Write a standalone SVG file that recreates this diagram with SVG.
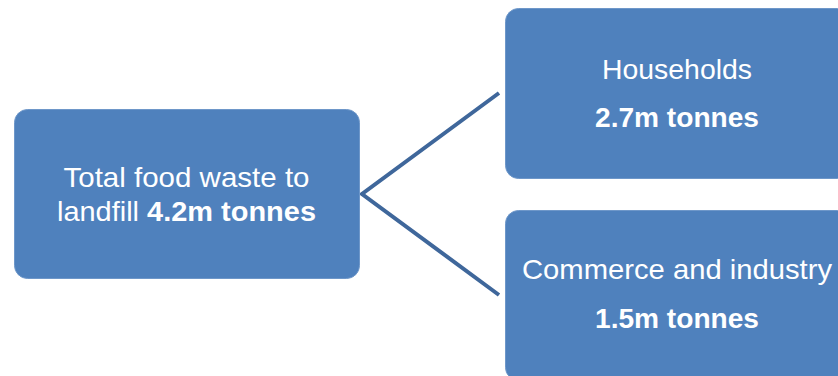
<svg xmlns="http://www.w3.org/2000/svg" width="838" height="376" viewBox="0 0 838 376">
<style>
.box{fill:#4F81BD;stroke:#6E97C9;stroke-width:1}
.t{font-family:"Liberation Sans",Arial,sans-serif;font-size:28px;fill:#FFFFFF;text-anchor:middle}
.b{font-weight:bold}
.conn{stroke:#3F679B;stroke-width:4;fill:none;stroke-linejoin:miter}
</style>
<rect width="838" height="376" fill="#FFFFFF"/>
<g id="connectors">
<path class="conn" d="M499,93 L362,194 L499,295"/>
</g>
<g id="node-total">
<rect class="box" x="14.5" y="109.5" width="345" height="169" rx="13"/>
<text class="t" x="186.5" y="187" textLength="246" lengthAdjust="spacingAndGlyphs">Total food waste to</text>
<text class="t" x="186.5" y="221" textLength="259" lengthAdjust="spacingAndGlyphs">landfill <tspan class="b">4.2m tonnes</tspan></text>
</g>
<g id="node-households">
<rect class="box" x="505.5" y="8.5" width="345" height="170" rx="13"/>
<text class="t" x="677" y="79" textLength="150" lengthAdjust="spacingAndGlyphs">Households</text>
<text class="t b" x="677" y="127" textLength="164" lengthAdjust="spacingAndGlyphs">2.7m tonnes</text>
</g>
<g id="node-commerce">
<rect class="box" x="505.5" y="210.5" width="345" height="170" rx="13"/>
<text class="t" x="677" y="279" textLength="310" lengthAdjust="spacingAndGlyphs">Commerce and industry</text>
<text class="t b" x="677" y="328" textLength="164" lengthAdjust="spacingAndGlyphs">1.5m tonnes</text>
</g>
</svg>
